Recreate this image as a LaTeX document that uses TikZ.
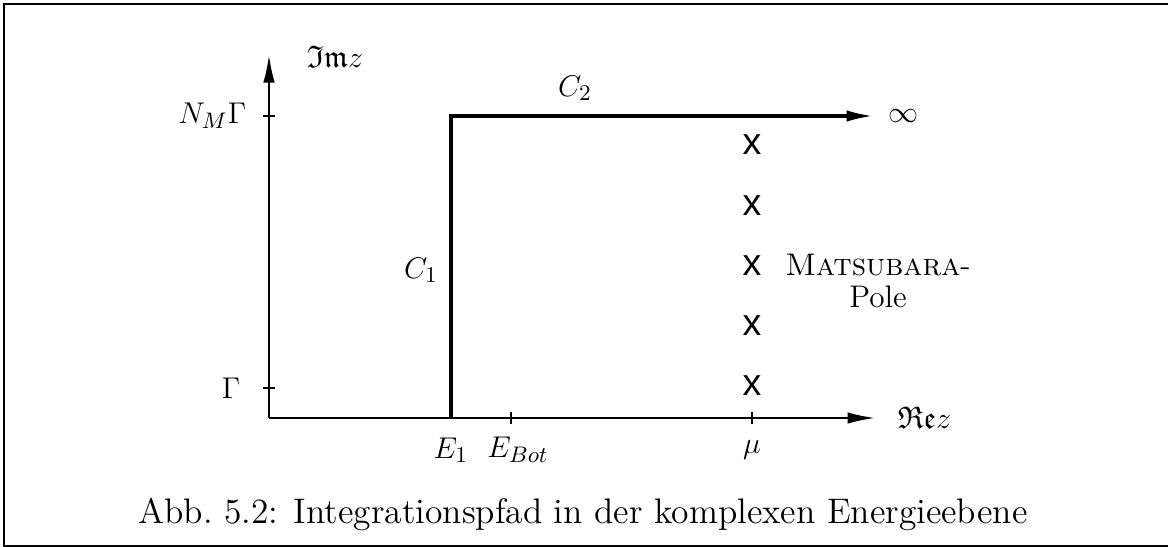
\documentclass[tikz,border=0pt]{standalone}
\usepackage{amssymb}
\usepackage{fontspec}
\newfontfamily\polefont{Liberation Sans}
\usepackage{tikz}
\usetikzlibrary{arrows.meta,positioning}

\begin{document}
\begin{tikzpicture}[x=0.4pt, y=-0.4pt, >={Latex[length=11pt,width=4.6pt]},
    every node/.style={font=\fontsize{12.5}{13}\selectfont},
    axis/.style={line width=0.8pt},
    path line/.style={line width=1.4pt},
    tickmark/.style={line width=0.6pt},
    pole/.style={font=\fontsize{15}{15}\selectfont\polefont, inner sep=0pt}]
  \useasboundingbox (0,0) rectangle (1168,547);
  \draw[line width=0.9pt] (4,4) rectangle (1175,546);

  % axes
  \coordinate (O) at (269,418);
  \coordinate (ytop) at (269,55);
  \coordinate (xend) at (875,418);
  \draw[->, axis] (O) -- (ytop);
  \draw[->, axis] (O) -- (xend);
  \node[anchor=west] (im) at (298,57) {$\mathfrak{Im}z$};
  \node[anchor=west] (re) at (889,418) {$\mathfrak{Re}z$};

  % ticks
  \draw[tickmark] (263,116) -- (275,116);
  \draw[tickmark] (263,388) -- (275,388);
  \draw[tickmark] (511,412) -- (511,424);
  \draw[tickmark] (752,412) -- (752,424);
  \node[anchor=east] (nm) at (255,116) {$N_M\Gamma$};
  \node[anchor=east] (g) at (249,388) {$\Gamma$};
  \node (e1) at (451,450) {$E_1$};
  \node (ebot) at (518,450) {$E_{Bot}$};
  \node (mu) at (752,450) {$\mu$};

  % integration path
  \coordinate (E1) at (451,418);
  \coordinate (corner) at (451,116);
  \coordinate (tip) at (874,116);
  \draw[->, path line] (E1) -- (corner) -- (tip);
  \node (c1) at (421,270) {$C_1$};
  \node (c2) at (575,88) {$C_2$};
  \node[anchor=west] (inf) at (880,116) {$\infty$};

  % poles
  \foreach \y [count=\i] in {145,206,266,326,386}
    \node[pole] (p\i) at (752,\y) {x};
  \node[align=center] (mats) at (878,281) {\textsc{Matsubara}-\\Pole};

  \node[font=\fontsize{14.2}{16}\selectfont] (cap) at (583,514) {Abb.~5.2: Integrationspfad in der komplexen Energieebene};
\end{tikzpicture}
\end{document}
